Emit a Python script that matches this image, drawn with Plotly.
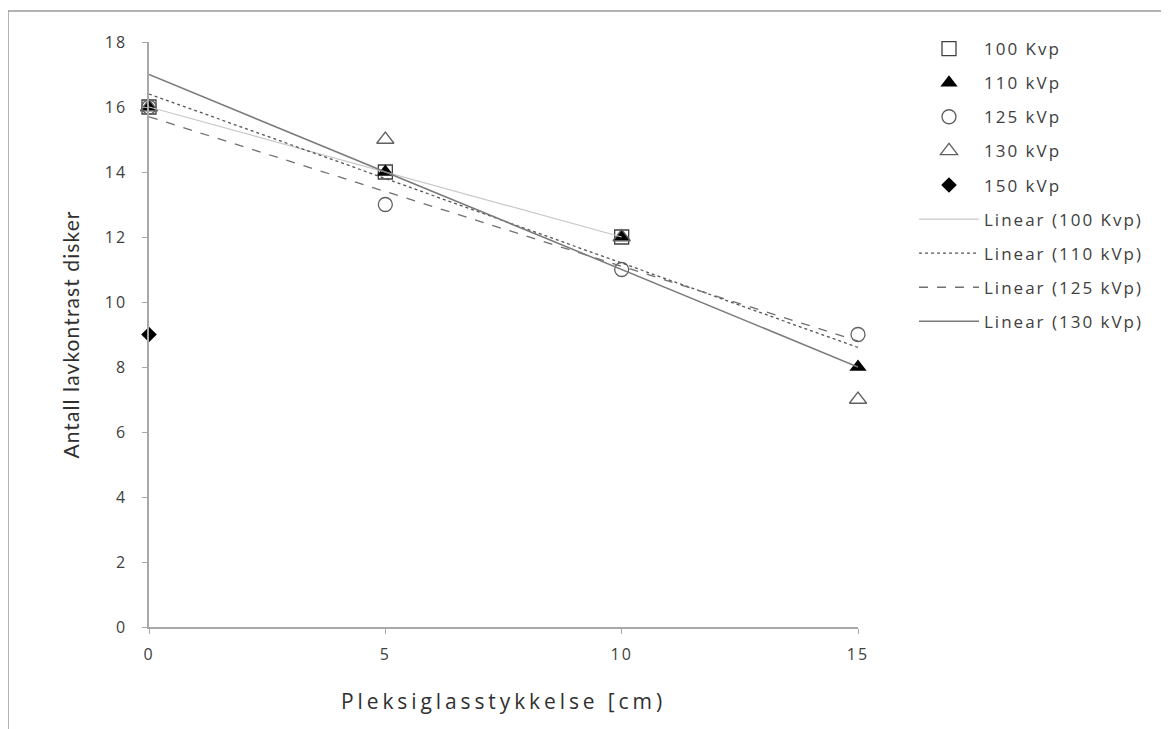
import numpy as np
import plotly.graph_objects as go

# ---- data ----
x_100 = [0, 5, 10]
y_100 = [16, 14, 12]
x_110 = [0, 5, 10, 15]
y_110 = [16, 14, 12, 8]
x_125 = [0, 5, 10, 15]
y_125 = [16, 13, 11, 9]
x_130 = [0, 5, 10, 15]
y_130 = [16, 15, 12, 7]
x_150 = [0]
y_150 = [9]

names = ["100 Kvp", "110 kVp", "125 kVp", "130 kVp", "150 kVp"]
x_ticks = [0, 5, 10, 15]
y_ticks = [0, 2, 4, 6, 8, 10, 12, 14, 16, 18]

FONT = "Open Sans"
TXT = "#404040"


def spaced(t, px):
    return f"<span style='letter-spacing:{px}px'>{t}</span>"


fig = go.Figure()

marker_styles = [
    (x_100, y_100, names[0], dict(symbol="square-open", size=14, color="#404040", line=dict(width=1.3))),
    (x_110, y_110, names[1], dict(symbol="triangle-up", size=15, color="black")),
    (x_125, y_125, names[2], dict(symbol="circle-open", size=14, color="#606060", line=dict(width=1.3))),
    (x_130, y_130, names[3], dict(symbol="triangle-up-open", size=15, color="#606060", line=dict(width=1.3))),
    (x_150, y_150, names[4], dict(symbol="diamond", size=12, color="black")),
]
for i, (xs, ys, nm, mk) in enumerate(marker_styles):
    fig.add_trace(go.Scatter(x=xs, y=ys, mode="markers", name=spaced(nm, 2), marker=mk,
                             legendgroup=f"g{i}", cliponaxis=False))

trend_styles = [
    (x_100, y_100, names[0], dict(color="#c8c8c8", width=1.2, dash="solid")),
    (x_110, y_110, names[1], dict(color="#555555", width=1.3, dash="dot")),
    (x_125, y_125, names[2], dict(color="#707070", width=1.3, dash="dash")),
    (x_130, y_130, names[3], dict(color="#7a7a7a", width=1.5, dash="solid")),
]
for j, (xs, ys, nm, ln) in enumerate(trend_styles):
    slope, icpt = np.polyfit(xs, ys, 1)
    xe = [min(xs), max(xs)]
    ye = [icpt + slope * v for v in xe]
    fig.add_trace(go.Scatter(x=xe, y=ye, mode="lines", name=spaced(f"Linear ({nm})", 2), line=ln,
                             legendgroup=f"t{j}"))

# page body has an 8px margin, so figure coords = screen coords - 8
OFF = 8
W, H = 1169, 729
L, R, T, B = 149 - OFF, 858 - OFF, 42 - OFF, 627 - OFF
pw, ph = R - L, B - T
def px(xp):
    return (xp - OFF - L) / pw
def py(yp):
    return (B - (yp - OFF)) / ph
fig.add_shape(type="rect", xref="paper", yref="paper",
              x0=px(8), x1=px(1163), y0=py(770), y1=py(11),
              line=dict(color="#9a9a9a", width=1.5), layer="below")

fig.update_layout(
    width=W, height=H,
    margin=dict(l=L, r=W - R, t=T, b=H - B, autoexpand=False),
    paper_bgcolor="white", plot_bgcolor="white",
    font=dict(family=FONT, color=TXT, size=14),
    showlegend=True,
    legend=dict(x=px(914), y=py(31), xanchor="left", yanchor="top",
                font=dict(family=FONT, size=17, color=TXT),
                tracegroupgap=9, traceorder="grouped", itemwidth=60,
                bgcolor="rgba(0,0,0,0)"),
    xaxis=dict(range=[0, 15], tickvals=x_ticks, ticktext=[spaced(v, 2) for v in x_ticks],
               showgrid=False, zeroline=False,
               showline=True, linecolor="#a8a8a8", linewidth=1.5,
               ticks="outside", ticklen=5, tickcolor="#a8a8a8",
               ticklabelstandoff=7,
               tickfont=dict(family=FONT, size=16, color=TXT),
               title=dict(text=spaced("Pleksiglasstykkelse [cm)", 3.9),
                          font=dict(family=FONT, size=21, color="#303030"),
                          standoff=30)),
    yaxis=dict(range=[0, 18], tickvals=y_ticks, ticktext=[spaced(v, 2) for v in y_ticks],
               showgrid=False, zeroline=False,
               showline=True, linecolor="#a8a8a8", linewidth=1.5,
               ticks="outside", ticklen=5, tickcolor="#a8a8a8",
               ticklabelstandoff=12,
               tickfont=dict(family=FONT, size=16, color=TXT),
               title=dict(text=spaced("Antall lavkontrast disker", 1.1),
                          font=dict(family="Lato", size=21, color="#303030"),
                          standoff=19)),
)

fig.write_html("out.html")
